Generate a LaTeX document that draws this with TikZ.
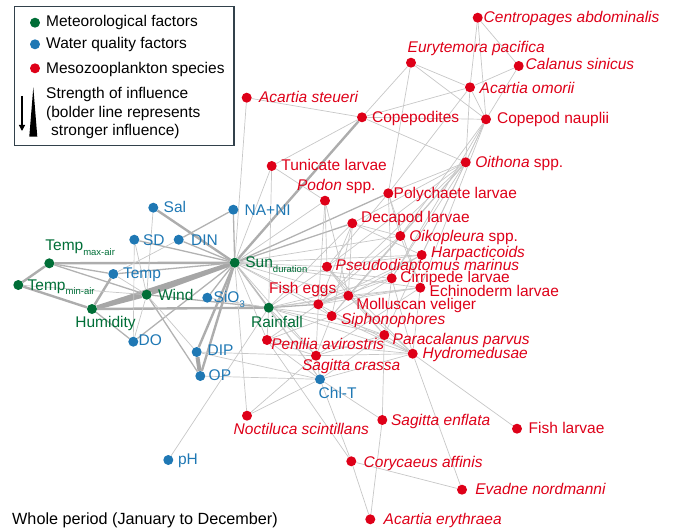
\documentclass[tikz,border=0pt]{standalone}
\usepackage{fontspec}
\setmainfont{Liberation Sans}
\usetikzlibrary{backgrounds,arrows.meta}

\definecolor{metgreen}{RGB}{0,110,55}
\definecolor{wqblue}{RGB}{31,120,180}
\definecolor{spred}{RGB}{222,0,24}
\definecolor{boxgray}{RGB}{50,65,75}

% kleiner, tiefgestellter Zusatz
\newcommand{\low}[1]{\raisebox{-5pt}{\fontsize{9.5}{10}\selectfont #1}}

\tikzset{
  dot/.style={circle,inner sep=0pt,minimum size=10pt},
  met/.style={dot,fill=metgreen},
  wq/.style={dot,fill=wqblue},
  sp/.style={dot,fill=spred},
  tx/.style={anchor=base west,inner sep=0pt},
  ml/.style n args={3}{label={[tx,text=metgreen,xshift=#1pt,yshift=#2pt]0:#3}},
  wl/.style n args={3}{label={[tx,text=wqblue,xshift=#1pt,yshift=#2pt]0:#3}},
  sl/.style n args={3}{label={[tx,text=spred,xshift=#1pt,yshift=#2pt]0:#3}},
  heavy/.style={line width=4pt,black!35},
  thick/.style={line width=2.4pt,black!32},
  mid/.style={line width=1.3pt,black!30},
  thin/.style={line width=0.7pt,black!22},
}

\begin{document}
\begin{tikzpicture}[x=1pt,y=-1pt,every node/.style={font=\fontsize{15.5}{18}\selectfont}]
  \useasboundingbox (0,0) rectangle (678,532);

  % Legende
  \draw[boxgray,line width=1.3pt] (14.3,6.7) rectangle (234,145.7);
  \node[met] (lgmet) at (35,22.7) {};
  \node[wq] (lgwq) at (35,44.3) {};
  \node[sp] (lgsp) at (35,68.3) {};
  \node[tx] (lgmett) at (46,26.7) {Meteorological factors};
  \node[tx] (lgwqt) at (46,49) {Water quality factors};
  \node[tx] (lgspt) at (46,73.3) {Mesozooplankton species};
  \node[tx] (lgstr) at (46,99) {Strength of influence};
  \node[tx] (lgbold) at (46,117.3) {(bolder line represents};
  \node[tx] (lgstrong) at (51,136) {stronger influence)};
  \draw[-{Triangle[length=6pt,width=6pt]},line width=1.2pt] (22,96) -- (22,131);
  \fill (33.3,87.3) -- (37.3,136.7) -- (29.3,136.7) -- cycle;

  % meteorologische Faktoren
  \node[met,ml={-9.3}{12.3}{Temp\low{max-air}}] (tmax) at (49.3,263.3) {};
  \node[met,ml={4}{-5}{Temp\low{min-air}}] (tmin) at (18.3,285) {};
  \node[met,ml={-22}{-18}{Humidity}] (hum) at (92,309) {};
  \node[met,ml={6}{-6}{Wind}] (wind) at (146.7,294.7) {};
  \node[met,ml={5.3}{-4.7}{Sun\low{duration}}] (sun) at (234.7,262.7) {};
  \node[met,ml={-23}{-19.6}{Rainfall}] (rain) at (268.7,307.7) {};

  % Wasserqualitaet
  \node[wq,wl={5}{-4.7}{Sal}] (sal) at (153.3,207.7) {};
  \node[wq,wl={6}{-5.3}{NA+NI}] (nani) at (233.3,209.7) {};
  \node[wq,wl={3.4}{-5.6}{SD}] (sd) at (134.3,239.7) {};
  \node[wq,wl={7}{-5.6}{DIN}] (din) at (178.7,239.7) {};
  \node[wq,wl={4.4}{-4.3}{Temp}] (temp) at (113.3,274) {};
  \node[wq,wl={1}{-5}{SiO\low{3}}] (sio) at (207.3,297.7) {};
  \node[wq,wl={0}{-3.6}{DO}] (doxy) at (133.3,341.7) {};
  \node[wq,wl={5.6}{-3.7}{DIP}] (dip) at (196.7,352) {};
  \node[wq,wl={3}{-4.7}{OP}] (op) at (200.3,376) {};
  \node[wq,wl={-6.7}{-19.4}{Chl-T}] (chl) at (320,379.3) {};
  \node[wq,wl={4.4}{-4}{pH}] (ph) at (168.3,460) {};

  % Mesozooplankton
  \node[sp,sl={0.6}{-4.6}{\textit{Centropages abdominalis}}] (centro) at (477.7,17.7) {};
  \node[sp,sl={-8.7}{10.4}{\textit{Eurytemora pacifica}}] (eury) at (411,62.7) {};
  \node[sp,sl={1.6}{-4}{\textit{Calanus sinicus}}] (calanus) at (518.7,66) {};
  \node[sp,sl={4.3}{-6}{\textit{Acartia omorii}}] (aomor) at (470,87.3) {};
  \node[sp,sl={7}{-5}{\textit{Acartia steueri}}] (asteu) at (246.7,97.7) {};
  \node[sp,sl={4.7}{-5.5}{Copepodites}] (copepod) at (362,117.3) {};
  \node[sp,sl={5.7}{-4.7}{Copepod nauplii}] (naup) at (486,119.3) {};
  \node[sp,sl={4.3}{-5}{\textit{Oithona} spp.}] (oith) at (465.7,162.3) {};
  \node[sp,sl={4.3}{-5}{Tunicate larvae}] (tunic) at (271.7,166) {};
  \node[sp,sl={-33.3}{10}{\textit{Podon} spp.}] (podon) at (325,200.7) {};
  \node[sp,sl={0}{-5}{Polychaete larvae}] (polych) at (388.3,193.3) {};
  \node[sp,sl={3.4}{1}{Decapod larvae}] (decap) at (352.3,223.3) {};
  \node[sp,sl={3.7}{-5}{\textit{Oikopleura} spp.}] (oikop) at (400.3,236) {};
  \node[sp,sl={4}{-2.7}{\textit{Harpacticoids}}] (harp) at (421.7,255) {};
  \node[sp,sl={3.3}{-3.3}{\textit{Pseudodiaptomus marinus}}] (pseudo) at (327,266.7) {};
  \node[sp,sl={3.3}{-4.4}{Cirripede larvae}] (cirri) at (391.7,278.3) {};
  \node[sp,sl={4}{-9}{Echinoderm larvae}] (echino) at (420.3,287.7) {};
  \node[sp,sl={-54.6}{11}{Fish eggs}] (fegg) at (318.3,304.3) {};
  \node[sp,sl={2.7}{-13.3}{Molluscan veliger}] (mollus) at (348.3,295.7) {};
  \node[sp,sl={4}{-8.3}{\textit{Siphonophores}}] (sipho) at (331.7,316) {};
  \node[sp,sl={3}{-9}{\textit{Paracalanus parvus}}] (paraca) at (384.3,335) {};
  \node[sp,sl={4.6}{-5}{\textit{Hydromedusae}}] (hydro) at (412.7,353.7) {};
  \node[sp,sl={-1}{-9}{\textit{Penilia avirostris}}] (penil) at (267,340) {};
  \node[sp,sl={-19.3}{-15}{\textit{Sagitta crassa}}] (scras) at (316,355.7) {};
  \node[sp,sl={-18.7}{-19}{\textit{Noctiluca scintillans}}] (noct) at (247,415.7) {};
  \node[sp,sl={3.4}{-5.7}{\textit{Sagitta enflata}}] (senfl) at (382.3,420) {};
  \node[sp,sl={6.3}{-4.6}{Fish larvae}] (flarv) at (517,428.7) {};
  \node[sp,sl={7}{-5.7}{\textit{Corycaeus affinis}}] (coryc) at (351.3,461.3) {};
  \node[sp,sl={8}{-4.3}{\textit{Evadne nordmanni}}] (evadne) at (462,489.7) {};
  \node[sp,sl={8}{-4.7}{\textit{Acartia erythraea}}] (aeryth) at (370.3,519.3) {};

  \node[tx,font=\fontsize{16.2}{19}\selectfont] (period) at (12,524) {Whole period (January to December)};

  % Verbindungen
  \begin{scope}[on background layer]
    \foreach \a/\b in {hum/sun,wind/sun,hum/wind,dip/op}
      \draw[heavy] (\a) -- (\b);
    \foreach \a/\b in {tmax/sun,tmax/tmin,tmin/hum,temp/hum,sal/sun,hum/rain,
        op/sun,dip/sun,copepod/sun}
      \draw[thick] (\a) -- (\b);
    \foreach \a/\b in {din/sun,tmax/wind,tmax/temp,temp/sun,sd/sun,nani/sun,
        rain/sun,doxy/sun,doxy/hum,wind/op,nani/din,sio/sun,polych/sun,
        decap/sun,rain/fegg,wind/rain}
      \draw[mid] (\a) -- (\b);
    \foreach \a/\b in {sal/wind,sd/wind,din/temp,temp/wind,doxy/wind,tmin/wind,
        sio/rain,wind/dip,sd/doxy,
        sun/tunic,sun/podon,sun/asteu,sun/pseudo,sun/fegg,sun/mollus,sun/sipho,
        sun/cirri,sun/oikop,sun/penil,sun/scras,sun/chl,sun/noct,sun/echino,sun/harp,
        rain/pseudo,rain/mollus,rain/sipho,rain/paraca,rain/hydro,rain/echino,
        rain/penil,rain/scras,rain/chl,rain/ph,rain/tunic,rain/cirri,rain/decap,
        chl/op,chl/dip,chl/noct,chl/scras,chl/hydro,chl/paraca,chl/coryc,
        chl/senfl,chl/penil,dip/scras,
        centro/calanus,centro/aomor,centro/naup,eury/aomor,eury/naup,eury/copepod,
        eury/polych,calanus/aomor,calanus/naup,aomor/copepod,aomor/naup,aomor/oith,
        aomor/polych,asteu/copepod,copepod/naup,copepod/oith,copepod/tunic,
        naup/oith,naup/oikop,naup/cirri,naup/echino,naup/harp,
        oith/decap,oith/polych,oith/pseudo,oith/oikop,oith/cirri,oith/harp,
        oith/mollus,oith/fegg,oith/sipho,
        tunic/podon,podon/fegg,podon/pseudo,podon/mollus,
        polych/pseudo,polych/cirri,polych/oikop,polych/echino,
        decap/fegg,decap/mollus,decap/sipho,decap/harp,decap/oikop,
        oikop/fegg,oikop/mollus,oikop/echino,
        harp/pseudo,harp/mollus,harp/fegg,harp/paraca,
        pseudo/mollus,pseudo/paraca,pseudo/hydro,
        cirri/fegg,cirri/sipho,cirri/paraca,cirri/hydro,
        echino/mollus,echino/fegg,echino/scras,echino/hydro,
        fegg/mollus,fegg/sipho,fegg/penil,fegg/scras,fegg/hydro,
        mollus/sipho,mollus/paraca,mollus/hydro,
        sipho/paraca,sipho/hydro,sipho/scras,sipho/penil,
        paraca/hydro,paraca/senfl,paraca/scras,
        hydro/flarv,hydro/evadne,hydro/scras,hydro/penil,
        penil/scras,penil/coryc,scras/noct,
        senfl/aeryth,coryc/evadne,coryc/aeryth}
      \draw[thin] (\a) -- (\b);
  \end{scope}
\end{tikzpicture}
\end{document}
